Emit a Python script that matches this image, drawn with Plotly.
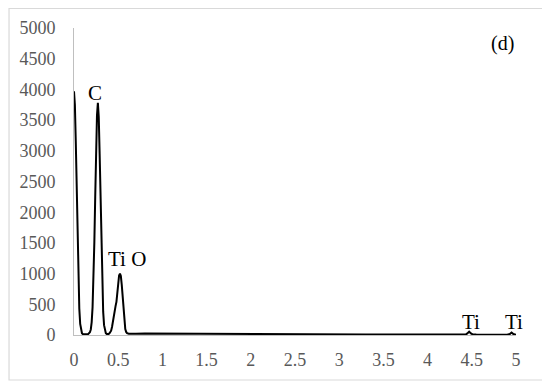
import plotly.graph_objects as go

# EDS spectrum (d): energy (keV) vs counts
energy = [
    0.00, 0.01, 0.02, 0.03, 0.04, 0.05, 0.06, 0.07, 0.08, 0.09,
    0.10, 0.11, 0.12, 0.13, 0.14, 0.15, 0.16, 0.17, 0.18, 0.19,
    0.20, 0.21, 0.22, 0.23, 0.24, 0.25, 0.26, 0.27, 0.28, 0.29,
    0.30, 0.31, 0.32, 0.33, 0.34, 0.35, 0.36, 0.37, 0.38, 0.39,
    0.40, 0.41, 0.42, 0.43, 0.44, 0.45, 0.46, 0.47, 0.48, 0.49,
    0.50, 0.51, 0.52, 0.53, 0.54, 0.55, 0.56, 0.57, 0.58, 0.59,
    0.60, 0.62, 0.65, 0.70, 0.80, 0.90, 1.00, 1.10, 1.20, 1.30,
    1.40, 1.50, 1.60, 1.70, 1.80, 1.90, 2.00, 2.10, 2.20, 2.30,
    2.40, 2.50, 2.60, 2.70, 2.80, 2.90, 3.00, 3.10, 3.20, 3.30,
    3.40, 3.50, 3.60, 3.70, 3.80, 3.90, 4.00, 4.10, 4.20, 4.30,
    4.40, 4.43, 4.45, 4.47, 4.49, 4.51, 4.55, 4.60, 4.70, 4.80,
    4.90, 4.93, 4.95, 4.97, 5.00,
]
counts = [
    3970, 3750, 3150, 2350, 1550, 880, 430, 180, 70, 30,
    15, 12, 12, 12, 10, 12, 15, 25, 45, 90,
    210, 450, 880, 1500, 2250, 3000, 3580, 3780, 3550, 2950,
    2150, 1380, 780, 380, 160, 65, 30, 18, 15, 18,
    25, 40, 70, 130, 230, 350, 440, 470, 540, 700,
    860, 970, 1000, 960, 820, 600, 370, 200, 95, 50,
    30, 22, 20, 22, 25, 24, 28, 26, 30, 27,
    29, 28, 25, 24, 22, 20, 19, 17, 16, 15,
    14, 13, 12, 12, 11, 10, 10, 9, 9, 8,
    8, 7, 7, 7, 6, 6, 6, 6, 5, 5,
    6, 8, 25, 55, 25, 10, 7, 6, 6, 6,
    6, 15, 40, 15, 5,
]

# peak labels
peak_labels = ["C", "Ti O", "Ti", "Ti"]
label_x = [0.24, 0.60, 4.49, 4.98]
label_y = [3940, 1240, 210, 210]

serif = "Liberation Serif, Times New Roman, serif"

fig = go.Figure()
fig.add_trace(go.Scatter(
    x=energy,
    y=counts,
    mode="lines",
    line=dict(color="black", width=2),
    showlegend=False,
    hoverinfo="skip",
))

for txt, lx, ly in zip(peak_labels, label_x, label_y):
    fig.add_annotation(x=lx, y=ly, text=txt, showarrow=False,
                       font=dict(family=serif, size=21, color="black"))

fig.add_annotation(x=4.85, y=4755, text="(d)", showarrow=False,
                   font=dict(family=serif, size=20, color="black"))

# light outer frame around the whole chart
# (the page body has an 8px margin, so everything is shifted up/left by 8px)
fig.add_shape(type="rect", xref="paper", yref="paper",
              x0=-0.147, x1=1.0667, y0=-0.1466, y1=1.0635,
              line=dict(color="#d9d9d9", width=1.2))

fig.update_layout(
    width=550,
    height=385,
    margin=dict(l=66, r=42, t=20, b=58),
    paper_bgcolor="white",
    plot_bgcolor="white",
    font=dict(family=serif, size=18, color="#595959"),
    xaxis=dict(
        range=[0, 5], dtick=0.5, tick0=0,
        showgrid=False, zeroline=False,
        showline=True, linecolor="#bfbfbf", linewidth=1,
        ticks="", ticklabelstandoff=8, automargin=False,
    ),
    yaxis=dict(
        range=[0, 5000], dtick=500, tick0=0,
        showgrid=False, zeroline=False,
        showline=True, linecolor="#bfbfbf", linewidth=1,
        ticks="", ticklabelstandoff=14, automargin=False,
    ),
)

fig.write_html("out.html")
